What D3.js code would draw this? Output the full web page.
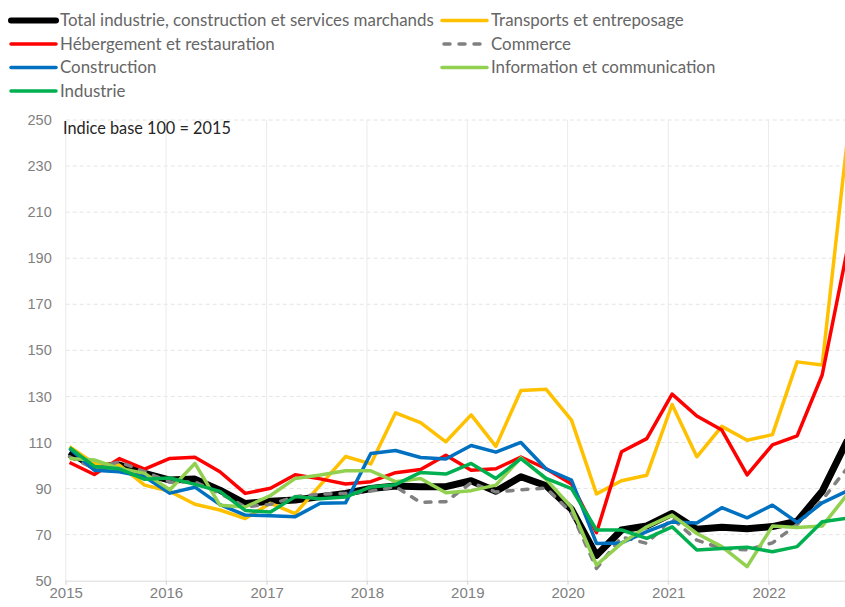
<!DOCTYPE html>
<html>
<head>
<meta charset="utf-8">
<script src="https://cdn.jsdelivr.net/npm/d3@7"></script>
<style>
  body { margin: 0; background: #fff; }
  svg { display: block; font-family: Lato, "Open Sans", sans-serif; }
</style>
</head>
<body>
<div id="chart"></div>
<script>
// trimestres (premier mois de chaque trimestre)
const quarters = [
  "2015-01", "2015-04", "2015-07", "2015-10",
  "2016-01", "2016-04", "2016-07", "2016-10",
  "2017-01", "2017-04", "2017-07", "2017-10",
  "2018-01", "2018-04", "2018-07", "2018-10",
  "2019-01", "2019-04", "2019-07", "2019-10",
  "2020-01", "2020-04", "2020-07", "2020-10",
  "2021-01", "2021-04", "2021-07", "2021-10",
  "2022-01", "2022-04", "2022-07", "2022-10"
];

const total = [105.9, 99.4, 100.2, 96.6, 93.7, 94.1, 89.3, 83.5, 84.5, 85, 86.5, 87.9, 90, 91.1, 90.8, 90.8,
  93.4, 88.8, 95.1, 91.2, 81, 61, 72, 73.8, 79.2, 72.3, 73.2, 72.6, 73.5, 75.8, 88.8, 111];
const transports = [108.2, 100.9, 100.2, 91.5, 88.8, 83.2, 80.7, 77, 83.6, 79.1, 91.5, 103.9, 100.7, 122.9, 118.6, 110.3,
  122, 108.3, 132.6, 133.1, 119.7, 87.7, 93.4, 95.8, 126.5, 103.8, 117, 111, 113.4, 145, 143.6, 242];
const hebergement = [101.3, 96.1, 103, 98.4, 103.1, 103.6, 97.3, 87.9, 90.1, 96, 94.2, 92, 93, 96.9, 98.3, 104.5,
  98, 98.6, 103.7, 98.6, 92, 70.8, 106, 111.7, 131, 121.5, 115.4, 95.9, 109, 112.9, 139.3, 194];
const commerce = [103.8, 98.7, 101.6, 97.3, 92.9, 92.9, 87.9, 82.1, 83.2, 86.5, 87.6, 87.9, 88.9, 90.8, 84, 84.3,
  92.5, 88.5, 89.5, 90.2, 79.5, 55.3, 69, 66.2, 77, 67.6, 64, 63.4, 66.4, 74.4, 85, 99];
const construction = [107.4, 98, 97.3, 95.1, 88, 90.6, 83, 78.5, 78.2, 77.8, 83.6, 83.8, 105.2, 106.5, 103.5, 102.8,
  108.7, 105.8, 110, 98.5, 93.7, 66.2, 66.4, 71.3, 75.5, 75, 81.7, 77.3, 82.8, 75.3, 83.8, 89];
const information = [103, 102.4, 98.8, 96.6, 89.5, 100.9, 82.8, 82, 87, 94.4, 95.9, 97.7, 97.7, 93, 94.4, 88.2,
  89.1, 91.5, 103.3, 94, 81.8, 56.8, 66.2, 73.4, 78.5, 70.5, 64.8, 56.1, 73.7, 73.1, 73.7, 87.5];
const industrie = [107.8, 99.6, 98.6, 94, 94.6, 91.8, 88.8, 80.5, 79.8, 86.5, 85.6, 86.3, 90.7, 91.7, 97, 96.3,
  100.9, 94.4, 103, 94.4, 90, 72, 72, 68.4, 73.4, 63.3, 64, 64.5, 62.6, 64.8, 75.6, 77.2];

const yTicks = [50, 70, 90, 110, 130, 150, 170, 190, 210, 230, 250];
const xTicks = ["2015", "2016", "2017", "2018", "2019", "2020", "2021", "2022"];

// ordre de dessin = ordre des séries dans le graphique
const series = [
  { name: "Total industrie, construction et services marchands", values: total, color: "#000000", width: 7, dash: null },
  { name: "Transports et entreposage", values: transports, color: "#FFC000", width: 3.5, dash: null },
  { name: "Hébergement et restauration", values: hebergement, color: "#FF0000", width: 3.5, dash: null },
  { name: "Commerce", values: commerce, color: "#808080", width: 3.5, dash: "6,9" },
  { name: "Construction", values: construction, color: "#0070C0", width: 3.5, dash: null },
  { name: "Information et communication", values: information, color: "#92D050", width: 3.5, dash: null },
  { name: "Industrie", values: industrie, color: "#00B050", width: 3.5, dash: null }
];

const W = 845, H = 607;
const svg = d3.select("#chart").append("svg")
  .attr("width", W)
  .attr("height", H);

const parseQ = d3.timeParse("%Y-%m-%d");
const dates = quarters.map(q => parseQ(q + "-15"));

// échelles
const x = d3.scaleTime()
  .domain([new Date(2015, 0, 1), new Date(2023, 0, 1)])
  .range([65.7, 65.7 + 8 * 100.4]);

const y = d3.scaleLinear()
  .domain([50, 250])
  .range([580.7, 120]);

const yearDates = xTicks.map(t => new Date(+t, 0, 1));

// grille horizontale
svg.append("g")
  .selectAll("line")
  .data(yTicks.filter(d => d > 50))
  .join("line")
  .attr("x1", x(yearDates[0]))
  .attr("x2", W)
  .attr("y1", d => y(d))
  .attr("y2", d => y(d))
  .attr("stroke", "#e4e4e4")
  .attr("stroke-width", 1)
  .attr("stroke-dasharray", "4,3");

// grille verticale
svg.append("g")
  .selectAll("line")
  .data(yearDates)
  .join("line")
  .attr("x1", d => x(d))
  .attr("x2", d => x(d))
  .attr("y1", y(250))
  .attr("y2", y(50) + 4)
  .attr("stroke", "#ebebeb")
  .attr("stroke-width", 1);

// axe des x
const xAxis = svg.append("g")
  .attr("transform", `translate(0,${y(50)})`)
  .call(d3.axisBottom(x).tickValues(yearDates).tickFormat(d3.timeFormat("%Y")).tickSize(4).tickSizeOuter(0));
xAxis.select(".domain").attr("stroke", "#d9d9d9").attr("d", `M${x(yearDates[0])},0.5H${W}`);
xAxis.selectAll(".tick line").attr("stroke", "#d9d9d9");
xAxis.selectAll("text")
  .attr("fill", "#7f7f7f")
  .attr("font-size", "15px")
  .attr("dy", "0.9em")
  .attr("y", 4);

// axe des y
const yAxis = svg.append("g")
  .attr("transform", `translate(${x(yearDates[0])},0)`)
  .call(d3.axisLeft(y).tickValues(yTicks).tickSize(0).tickPadding(14));
yAxis.select(".domain").remove();
yAxis.selectAll("text")
  .attr("fill", "#7f7f7f")
  .attr("font-size", "14.5px");

// courbes
const line = d3.line()
  .x((d, i) => x(dates[i]))
  .y(d => y(d));

svg.append("g")
  .selectAll("path")
  .data(series)
  .join("path")
  .attr("d", d => line(d.values))
  .attr("fill", "none")
  .attr("stroke", d => d.color)
  .attr("stroke-width", d => d.width)
  .attr("stroke-linejoin", "round")
  .attr("stroke-linecap", d => d.dash ? "round" : "butt")
  .attr("stroke-dasharray", d => d.dash);

// note
svg.append("text")
  .attr("x", 63)
  .attr("y", 128)
  .attr("dy", "0.35em")
  .attr("fill", "#262626")
  .attr("font-size", "16.3px")
  .text("Indice base 100 = 2015");

// légende (2 colonnes, rangée par rangée)
const legend = svg.append("g");
const legendItems = legend.selectAll("g")
  .data(series)
  .join("g")
  .attr("transform", (d, i) => `translate(${i % 2 === 0 ? 11 : 442},${20.5 + Math.floor(i / 2) * 23.5})`);

legendItems.append("line")
  .attr("x1", d => d.dash ? 2 : 0)
  .attr("x2", d => d.dash ? 44 : 45)
  .attr("stroke", d => d.color)
  .attr("stroke-width", d => d.width === 7 ? 6 : 3.5)
  .attr("stroke-linecap", "round")
  .attr("stroke-dasharray", d => d.dash);

legendItems.append("text")
  .attr("x", 49)
  .attr("dy", "0.33em")
  .attr("fill", "#666666")
  .attr("font-size", "16.9px")
  .text(d => d.name);
</script>
</body>
</html>
